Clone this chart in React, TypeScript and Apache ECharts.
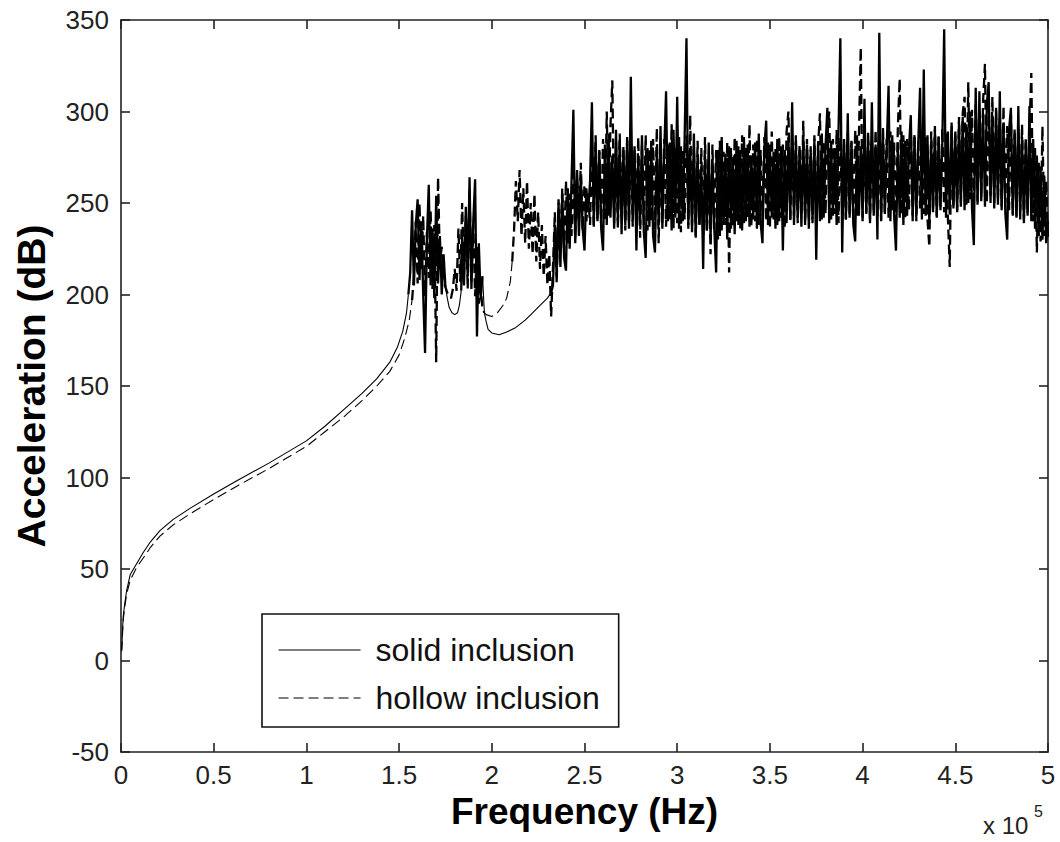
import React, { useEffect, useRef } from "react";
import * as echarts from "echarts";

// Frequency axis is in units of 10^5 Hz; acceleration in dB.
const FREQ_STEP = 0.01;

// ---- solid inclusion ----
const solidSmoothA: [number, number][] = [
  [0.004, 6], [0.008, 16], [0.012, 24], [0.02, 31], [0.03, 38], [0.05, 47],
  [0.085, 53], [0.12, 59], [0.16, 65], [0.21, 71], [0.28, 77], [0.37, 83],
  [0.5, 91], [0.62, 98], [0.8, 108], [1.0, 120], [1.1, 128], [1.2, 137],
  [1.3, 146], [1.38, 154], [1.45, 163], [1.49, 171], [1.52, 180], [1.54, 190], [1.55, 200],
];
const solidBurstAStart = 1.56;
const solidBurstA = [212, 246, 205, 238, 252, 208, 240, 200, 168, 230, 260, 205, 236, 198, 254, 206, 232, 200, 222, 204];
const solidDip: [number, number][] = [
  [1.76, 198], [1.77, 193], [1.785, 190], [1.8, 189], [1.815, 190], [1.825, 194], [1.835, 202],
];
const solidBurstBStart = 1.84;
const solidBurstB = [232, 205, 248, 210, 264, 203, 240, 263, 177, 228, 198, 210];
const solidSmoothB: [number, number][] = [
  [1.96, 190], [1.97, 185], [1.98, 181], [2.0, 179], [2.04, 178], [2.08, 179.5],
  [2.13, 182], [2.18, 186], [2.22, 190], [2.26, 194], [2.3, 198], [2.32, 201],
];
const solidBandStart = 2.33;
const solidBand = [
  205, 238, 210, 250, 215, 255, 220, 213, 258, 225,
  262, 301, 228, 268, 232, 265, 236, 224, 258, 245,
  262, 305, 238, 283, 240, 278, 236, 224, 282, 238,
  288, 242, 276, 236, 290, 240, 284, 233, 279, 238,
  286, 236, 319, 240, 281, 224, 276, 238, 287, 234,
  220, 280, 237, 284, 232, 223, 279, 238, 292, 236,
  278, 311, 240, 283, 235, 290, 242, 308, 236, 281,
  240, 285, 340, 238, 280, 234, 288, 232, 276, 238,
  270, 214, 276, 235, 283, 230, 274, 236, 212, 279,
  232, 286, 238, 277, 230, 281, 236, 275, 233, 284,
  238, 279, 235, 286, 240, 282, 237, 276, 241, 283,
  236, 288, 239, 228, 280, 295, 238, 282, 242, 278,
  236, 285, 240, 281, 224, 279, 239, 286, 241, 305,
  238, 283, 242, 279, 237, 287, 240, 282, 236, 279,
  241, 285, 219, 283, 240, 288, 242, 281, 302, 239,
  284, 243, 280, 238, 289, 340, 223, 285, 241, 299,
  242, 283, 238, 229, 287, 243, 281, 240, 307, 244,
  284, 239, 305, 243, 282, 230, 343, 241, 286, 244,
  280, 314, 240, 287, 243, 224, 283, 242, 289, 238,
  284, 243, 280, 298, 240, 286, 244, 282, 313, 241,
  323, 243, 287, 239, 284, 245, 290, 242, 286, 246,
  283, 345, 242, 289, 244, 292, 247, 287, 245, 294,
  248, 297, 246, 293, 250, 300, 247, 227, 313, 249,
  311, 251, 299, 248, 304, 316, 250, 298, 247, 302,
  249, 311, 246, 294, 244, 230, 290, 302, 243, 288,
  242, 303, 241, 286, 239, 283, 243, 303, 240, 285,
  236, 276, 232, 270, 230, 265, 228, 240,
];

// ---- hollow inclusion ----
const hollowSmoothA: [number, number][] = [
  [0.004, 5], [0.008, 14], [0.012, 22], [0.02, 29], [0.03, 36], [0.05, 44],
  [0.085, 51], [0.12, 56], [0.16, 62], [0.21, 68], [0.28, 74], [0.37, 80],
  [0.5, 88], [0.62, 95], [0.8, 105], [1.0, 117], [1.1, 125], [1.2, 133],
  [1.3, 142], [1.38, 150], [1.45, 158], [1.5, 167], [1.53, 176], [1.555, 186], [1.57, 197],
];
const hollowBurstAStart = 1.58;
const hollowBurstA = [
  210, 240, 206, 250, 214, 243, 199, 234, 209, 246,
  203, 238, 163, 264, 218, 226, 208, 204, 201, 199,
  198, 203, 214, 202, 236, 207, 250, 211, 243, 203,
  257, 207, 238, 199, 226, 195, 204, 192, 190,
];
const hollowSmoothB: [number, number][] = [
  [1.97, 189], [2.0, 188], [2.03, 190], [2.06, 194], [2.08, 198], [2.1, 207], [2.11, 218],
];
const hollowBandStart = 2.12;
const hollowBand = [
  235, 262, 240, 268, 232, 258, 228, 262, 225, 250,
  222, 255, 218, 245, 214, 238, 210, 232, 205, 222, 188,
  215, 245, 206, 252, 225, 258, 222, 262, 228, 255,
  232, 270, 230, 264, 238, 272, 235, 260, 240, 255,
  238, 281, 236, 287, 241, 279, 237, 285, 240, 300,
  243, 292, 317, 239, 283, 236, 288, 241, 281, 235,
  284, 239, 290, 237, 279, 241, 286, 231, 282, 238,
  287, 235, 280, 240, 285, 236, 291, 228, 279, 239,
  285, 237, 282, 241, 293, 236, 280, 239, 286, 234,
  279, 241, 287, 236, 298, 238, 281, 231, 284, 237,
  280, 232, 286, 234, 275, 222, 282, 236, 279, 230,
  284, 235, 278, 238, 283, 212, 280, 237, 286, 240,
  281, 236, 287, 239, 280, 242, 293, 237, 282, 240,
  285, 238, 279, 243, 286, 240, 283, 236, 289, 241,
  280, 238, 286, 242, 282, 236, 289, 300, 240, 284,
  243, 287, 239, 282, 244, 295, 238, 285, 242, 281,
  239, 287, 243, 282, 299, 241, 284, 244, 289, 300,
  240, 285, 244, 290, 239, 286, 245, 282, 241, 288,
  244, 284, 240, 290, 243, 286, 335, 242, 285, 245,
  289, 241, 284, 246, 290, 243, 286, 240, 292, 245,
  285, 242, 289, 246, 283, 240, 291, 318, 244, 287,
  241, 285, 246, 291, 243, 288, 240, 284, 247, 290,
  244, 286, 241, 226, 289, 246, 292, 243, 287, 248,
  291, 245, 288, 242, 215, 294, 248, 290, 246, 297,
  250, 299, 308, 249, 316, 252, 301, 248, 305, 251,
  298, 253, 306, 326, 250, 302, 254, 308, 249, 300,
  252, 296, 248, 303, 250, 292, 246, 298, 244, 291,
  243, 288, 246, 293, 241, 286, 244, 290, 321, 240,
  280, 223, 272, 229, 292, 232, 262, 230,
];

const yTicks = { min: -50, max: 350, interval: 50 };
const xTicks = { min: 0, max: 5, interval: 0.5 };

const FONT = "'Liberation Sans', Arial, Helvetica, sans-serif";

function grid(start: number, values: number[]): [number, number][] {
  return values.map((v, i) => [Math.round((start + i * FREQ_STEP) * 1000) / 1000, v]);
}

type Seg = { data: [number, number][]; noisy: boolean };

const solidSegs: Seg[] = [
  { data: solidSmoothA, noisy: false },
  { data: grid(solidBurstAStart, solidBurstA), noisy: true },
  { data: solidDip, noisy: false },
  { data: grid(solidBurstBStart, solidBurstB), noisy: true },
  { data: solidSmoothB, noisy: false },
  { data: grid(solidBandStart, solidBand), noisy: true },
];

const hollowSegs: Seg[] = [
  { data: hollowSmoothA, noisy: false },
  { data: grid(hollowBurstAStart, hollowBurstA), noisy: true },
  { data: hollowSmoothB, noisy: false },
  { data: grid(hollowBandStart, hollowBand), noisy: true },
];

function buildSeries(name: string, segs: Seg[], dash: "solid" | number[], z: number) {
  return segs.map((s, i) => {
    const prev = i > 0 ? segs[i - 1].data : null;
    const data = prev ? [prev[prev.length - 1], ...s.data] : s.data;
    return {
      name,
      type: "line",
      data,
      symbol: "none",
      z,
      lineStyle: { color: "#000", width: s.noisy ? 2.3 : 1.1, type: dash },
      itemStyle: { color: "#000" },
    };
  });
}

export default function App() {
  const ref = useRef<HTMLDivElement>(null);
  useEffect(() => {
    if (!ref.current) return;
    const chart = echarts.init(ref.current, null, { renderer: "svg" });
    const axisLine = { show: true, onZero: false, lineStyle: { color: "#222", width: 1.6 } };
    const axisTick = { show: true, inside: true, length: 9, lineStyle: { color: "#222", width: 1.6 } };
    chart.setOption({
      animation: false,
      backgroundColor: "#fff",
      grid: { left: 121, right: 12, top: 20, bottom: 90, containLabel: false },
      legend: {
        left: 262,
        top: 614,
        orient: "vertical",
        backgroundColor: "#fff",
        borderColor: "#111",
        borderWidth: 1.6,
        borderRadius: 0,
        padding: [16, 19, 9, 16],
        itemWidth: 82,
        itemHeight: 14,
        itemGap: 8,
        itemStyle: { opacity: 0 },
        lineStyle: { width: 1.1 },
        textStyle: { fontSize: 32, fontFamily: FONT, color: "#111", lineHeight: 40, padding: [0, 0, 0, 10] },
        data: ["solid inclusion", "hollow inclusion"],
      },
      xAxis: [
        {
          type: "value",
          position: "bottom",
          ...xTicks,
          axisLine,
          axisTick,
          splitLine: { show: false },
          axisLabel: { fontSize: 26, fontFamily: FONT, color: "#222", margin: 10 },
          name: "Frequency (Hz)",
          nameLocation: "middle",
          nameGap: 36,
          nameTextStyle: { fontSize: 37, fontWeight: "bold", fontFamily: FONT, color: "#000" },
        },
        {
          type: "value",
          position: "top",
          ...xTicks,
          axisLine,
          axisTick,
          splitLine: { show: false },
          axisLabel: { show: false },
        },
      ],
      yAxis: [
        {
          type: "value",
          position: "left",
          ...yTicks,
          axisLine,
          axisTick,
          splitLine: { show: false },
          axisLabel: { fontSize: 26, fontFamily: FONT, color: "#222", margin: 12 },
          name: "Acceleration (dB)",
          nameLocation: "middle",
          nameGap: 70,
          nameTextStyle: { fontSize: 39, fontWeight: "bold", fontFamily: FONT, color: "#000" },
        },
        {
          type: "value",
          position: "right",
          ...yTicks,
          axisLine,
          axisTick,
          splitLine: { show: false },
          axisLabel: { show: false },
        },
      ],
      graphic: [
        { type: "text", x: 983, y: 813, style: { text: "x 10", fontSize: 24, fontFamily: FONT, fill: "#222" } },
        { type: "text", x: 1034, y: 803, style: { text: "5", fontSize: 16, fontFamily: FONT, fill: "#222" } },
      ],
      series: [
        ...buildSeries("solid inclusion", solidSegs, "solid", 3),
        ...buildSeries("hollow inclusion", hollowSegs, [10, 5], 2),
      ],
    });
    return () => chart.dispose();
  }, []);
  return (
    <div
      ref={ref}
      style={{ position: "absolute", left: 0, top: 0, width: 1060, height: 842, background: "#fff" }}
    />
  );
}
